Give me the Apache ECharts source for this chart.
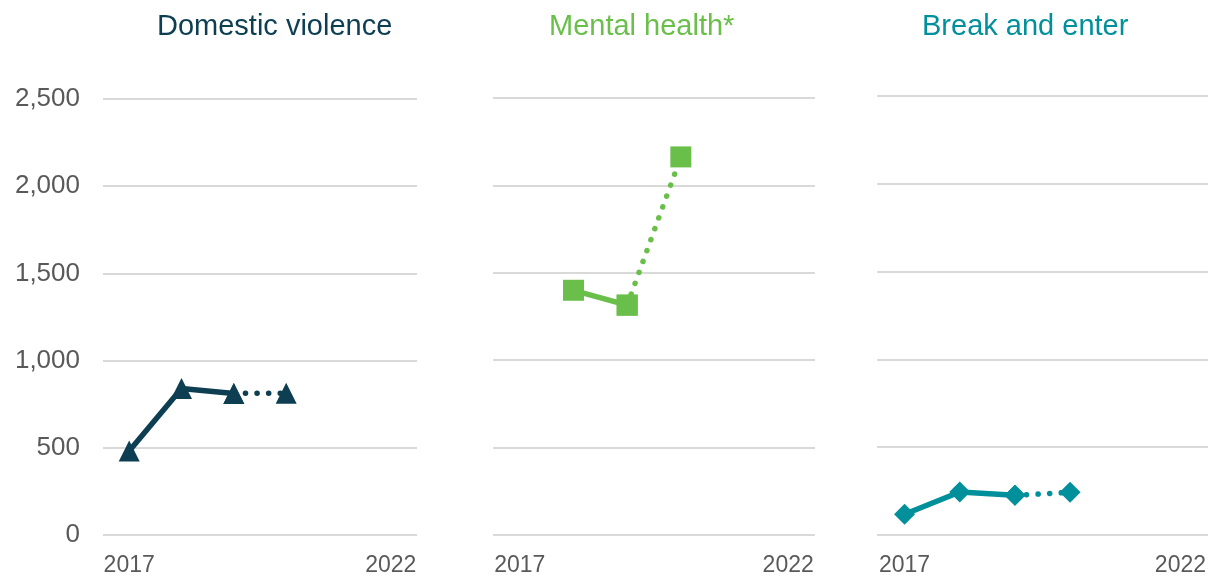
<!DOCTYPE html>
<html>
<head lang="en">
    <meta charset="UTF-8">
    <title>Incidents 2017-2022</title>
    <style>
        html, body { margin: 0; padding: 0; background: #fff; }
    </style>
</head>
<body>
<div id="container" style="width:1210px;height:577px"></div>
<script type="text/javascript" src="https://cdn.jsdelivr.net/npm/echarts@6/dist/echarts.min.js"></script>
<script type="text/javascript">
    // x axis years, shared by the three panels
    var years = ['2017', '2018', '2019', '2020', '2021', '2022'];

    // recorded values (solid line) and the latest value (dotted on to 2020)
    var domesticActual = [482, 840, 812];
    var domesticLatest = 813;
    var mentalActual = [null, 1400, 1315];
    var mentalLatest = 2163;
    var breakActual = [118, 245, 226];
    var breakLatest = 243;

    var titles = ['Domestic violence', 'Mental health*', 'Break and enter'];
    var colors = ['#0d3e51', '#6abf4b', '#00909b'];
    var symbols = ['triangle', 'rect', 'diamond'];

    var font = 'Liberation Sans, Arial, sans-serif';

    var panels = [
        {actual: domesticActual, latest: domesticLatest, left: 103, width: 314, top: 99, height: 436, titleLeft: 152},
        {actual: mentalActual, latest: mentalLatest, left: 493, width: 322, top: 98, height: 441, titleLeft: 544},
        {actual: breakActual, latest: breakLatest, left: 877, width: 331, top: 96, height: 443, titleLeft: 917}
    ];

    function toSeries(arr) {
        return arr.map(function (v) { return v == null ? '-' : v; });
    }

    var dom = document.getElementById("container");
    var myChart = echarts.init(dom);

    var grid = [], xAxis = [], yAxis = [], series = [], title = [];

    panels.forEach(function (p, i) {
        grid.push({left: p.left, top: p.top, width: p.width, height: p.height});
        title.push({
            text: titles[i],
            left: p.titleLeft,
            top: 7,
            textStyle: {color: colors[i], fontSize: 29, fontWeight: 'normal', fontFamily: font}
        });
        xAxis.push({
            type: 'category',
            gridIndex: i,
            data: years,
            boundaryGap: true,
            axisLine: {show: false},
            axisTick: {show: false},
            axisLabel: {
                interval: function (idx) { return idx === 0 || idx === years.length - 1; },
                color: '#595959',
                fontSize: 23,
                fontFamily: font,
                margin: 19
            }
        });
        yAxis.push({
            type: 'value',
            gridIndex: i,
            min: 0,
            max: 2500,
            interval: 500,
            axisLine: {show: false},
            axisTick: {show: false},
            axisLabel: {
                show: i === 0,
                color: '#595959',
                fontSize: 26,
                fontFamily: font,
                margin: 23,
                formatter: function (v) { return v.toLocaleString('en-US'); }
            },
            splitLine: {lineStyle: {color: '#d9d9d9', width: 2}}
        });

        var solid = toSeries(p.actual);
        var dotted = p.actual.map(function () { return '-'; });
        var last = p.actual.length - 1;
        dotted[last] = p.actual[last];
        dotted.push(p.latest);

        series.push({
            type: 'line',
            xAxisIndex: i,
            yAxisIndex: i,
            data: dotted,
            symbol: symbols[i],
            symbolSize: 21,
            showAllSymbol: true,
            itemStyle: {color: colors[i]},
            lineStyle: {color: colors[i], width: 5.5, type: [0.1, 11.5], cap: 'round'},
            z: 2,
            animation: false
        });
        series.push({
            type: 'line',
            xAxisIndex: i,
            yAxisIndex: i,
            data: solid,
            symbol: symbols[i],
            symbolSize: 21,
            showAllSymbol: true,
            itemStyle: {color: colors[i]},
            lineStyle: {color: colors[i], width: 5.5},
            z: 3,
            animation: false
        });
    });

    var option = {
        backgroundColor: '#fff',
        title: title,
        grid: grid,
        xAxis: xAxis,
        yAxis: yAxis,
        series: series
    };
    myChart.setOption(option);
</script>
</body>
</html>
